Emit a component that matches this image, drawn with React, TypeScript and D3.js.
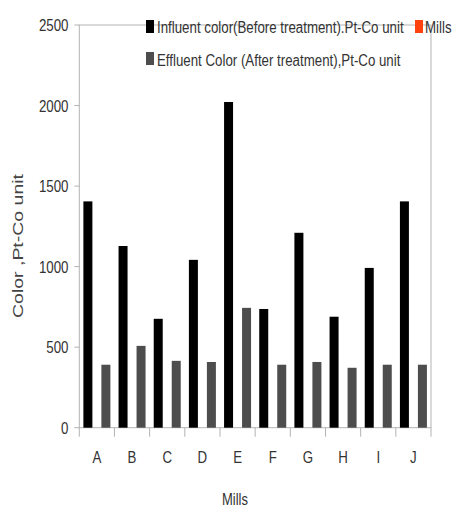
import React from "react";
import * as d3 from "d3";

const categories = ["A", "B", "C", "D", "E", "F", "G", "H", "I", "J"];
const influent = [1405, 1128, 676, 1042, 2022, 737, 1210, 689, 992, 1405];
const effluent = [391, 508, 415, 408, 744, 391, 408, 372, 391, 391];
const mills = [0, 0, 0, 0, 0, 0, 0, 0, 0, 0];
const yTicks = [0, 500, 1000, 1500, 2000, 2500];
const seriesNames = [
  "Influent color(Before treatment).Pt-Co unit",
  "Mills",
  "Effluent Color (After treatment),Pt-Co unit",
];
const seriesColors = ["#000000", "#ff420e", "#4d4d4d"];

const W = 457;
const H = 507;
const SY = 1.3;
const FONT = "'Liberation Sans', Arial, sans-serif";

function SText(props: {
  x: number;
  y: number;
  size: number;
  anchor?: string;
  fill?: string;
  children: React.ReactNode;
}) {
  const { x, y, size, anchor = "start", fill = "#333", children } = props;
  return (
    <text
      transform={`translate(${x},${y}) scale(1,${SY})`}
      fontSize={size}
      fontFamily={FONT}
      textAnchor={anchor}
      fill={fill}
    >
      {children}
    </text>
  );
}

export default function App() {
  const left = 79.3;
  const right = 431;
  const top = 25;
  const bottom = 427.7;

  const x = d3.scaleBand<string>().domain(categories).range([left, right]).padding(0);
  const inner = d3
    .scaleBand<string>()
    .domain(["inf", "mills", "eff"])
    .range([0, x.bandwidth()])
    .paddingInner(0)
    .paddingOuter(0.454);
  const y = d3.scaleLinear().domain([0, 2500]).range([bottom, top]);

  const series = [
    { key: "inf", values: influent, color: seriesColors[0] },
    { key: "mills", values: mills, color: seriesColors[1] },
    { key: "eff", values: effluent, color: seriesColors[2] },
  ];

  const axisColor = "#b3b3b3";
  const boundaries = categories.map((c) => x(c) as number).concat([right]);

  return (
    <svg
      width={W}
      height={H}
      style={{ position: "absolute", left: 0, top: 0, background: "#fff" }}
    >
      <rect x={0} y={0} width={W} height={H} fill="#fff" />
      {/* frame */}
      <rect
        x={left}
        y={top}
        width={right - left}
        height={bottom - top}
        fill="none"
        stroke={axisColor}
        strokeWidth={1}
      />
      {/* bars */}
      {series.map((s) =>
        s.values.map((v, i) => (
          <rect
            key={s.key + i}
            x={(x(categories[i]) as number) + (inner(s.key) as number)}
            y={y(v)}
            width={inner.bandwidth()}
            height={bottom - y(v)}
            fill={s.color}
          />
        ))
      )}
      {/* y ticks */}
      {yTicks.map((t) => (
        <g key={t}>
          <line x1={left - 5} x2={left} y1={y(t)} y2={y(t)} stroke={axisColor} />
          <SText x={68.5} y={y(t) + 6} size={13.3} anchor="end">
            {t}
          </SText>
        </g>
      ))}
      {/* x ticks */}
      {boundaries.map((b, i) => (
        <line key={i} x1={b} x2={b} y1={bottom} y2={bottom + 9} stroke={axisColor} />
      ))}
      {categories.map((c) => (
        <SText key={c} x={(x(c) as number) + x.bandwidth() / 2} y={463.3} size={13.3} anchor="middle">
          {c}
        </SText>
      ))}
      {/* axis titles */}
      <SText x={235} y={505} size={13} anchor="middle">
        Mills
      </SText>
      <text
        transform={`translate(23,246) scale(1,${SY}) rotate(-90)`}
        fontSize={15}
        fontFamily={FONT}
        textAnchor="middle"
        fill="#444"
      >
        Color ,Pt-Co unit
      </text>
      {/* legend */}
      <rect x={146} y={20} width={8} height={13} fill={seriesColors[0]} />
      <SText x={157} y={33.3} size={13.3}>
        {seriesNames[0]}
      </SText>
      <rect x={415} y={20} width={8} height={13} fill={seriesColors[1]} />
      <SText x={425} y={33.3} size={13.3}>
        {seriesNames[1]}
      </SText>
      <rect x={146} y={52} width={8} height={13} fill={seriesColors[2]} />
      <SText x={157} y={65.7} size={13.3}>
        {seriesNames[2]}
      </SText>
    </svg>
  );
}
